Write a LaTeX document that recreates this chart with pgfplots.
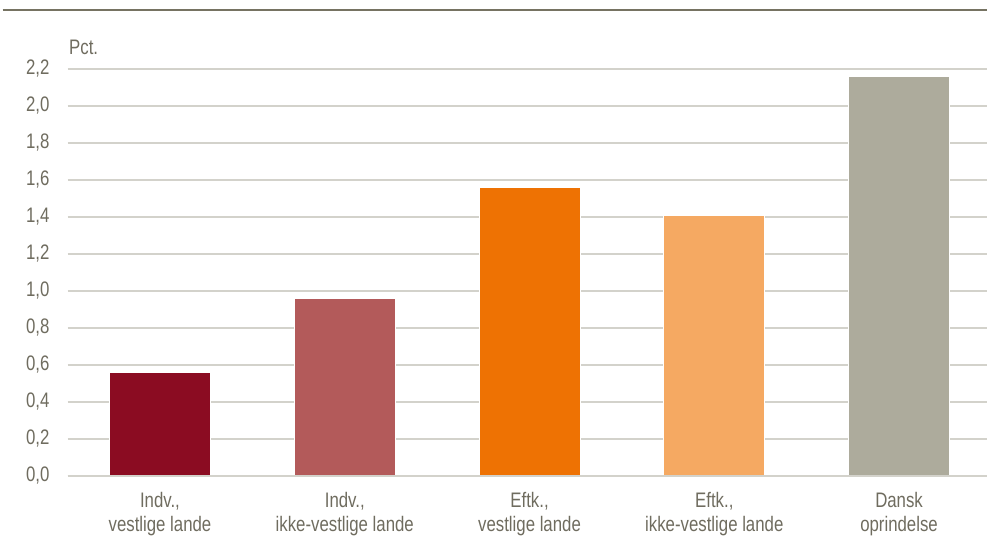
\documentclass[border=0pt]{standalone}
\usepackage{fontspec}
\setmainfont{Liberation Sans}[FakeStretch=0.80]
\usepackage{pgfplots}
\pgfplotsset{compat=1.18}
\definecolor{gridc}{HTML}{D3D2CB}
\definecolor{tickc}{HTML}{6F6C5F}
\definecolor{rulec}{HTML}{767362}
\definecolor{c1}{HTML}{8B0C22}
\definecolor{c2}{HTML}{B35A5A}
\definecolor{c3}{HTML}{EE7203}
\definecolor{c4}{HTML}{F5A962}
\definecolor{c5}{HTML}{ADAB9C}
\begin{document}
\fontsize{21bp}{24bp}\selectfont
\begin{tikzpicture}
\path[use as bounding box] (-67.6bp,-69bp) rectangle (919.4bp,476bp);
\draw[rulec, line width=2.2bp] (-65bp,466bp) -- (919.4bp,466bp);
\node[anchor=west, inner sep=0pt, text=tickc] at (1.4bp,429bp) {Pct.};
\begin{axis}[
  at={(0,0)}, anchor=south west,
  scale only axis, width=919.4bp, height=407bp,
  xmin=-0.5, xmax=4.476, ymin=0, ymax=2.2,
  clip=false,
  axis line style={draw=none},
  tick style={draw=none}, major tick length=0pt,
  ytick={0,0.2,0.4,0.6,0.8,1.0,1.2,1.4,1.6,1.8,2.0,2.2},
  ymajorgrids, grid style={draw=gridc, line width=1.6bp},
  yticklabel style={text=tickc, xshift=-11bp,
    /pgf/number format/.cd, use comma, fixed, fixed zerofill, precision=1, assume math mode=true},
  xtick={0,1,2,3,4},
  xticklabels={{Indv.,\\vestlige lande},{Indv.,\\ikke-vestlige lande},{Eftk.,\\vestlige lande},{Eftk.,\\ikke-vestlige lande},{Dansk\\oprindelse}},
  xticklabel style={text=tickc, align=center, yshift=-9bp},
  ybar, bar width=101bp,
  every axis plot/.append style={bar shift=0pt, draw=white, line width=0.8bp},
]
\addplot[fill=c1] coordinates {(0,0.56)};
\addplot[fill=c2] coordinates {(1,0.96)};
\addplot[fill=c3] coordinates {(2,1.56)};
\addplot[fill=c4] coordinates {(3,1.41)};
\addplot[fill=c5] coordinates {(4,2.16)};
\draw[gridc, line width=1.8bp] (axis cs:-0.5,0) -- (axis cs:4.476,0);
\end{axis}
\end{tikzpicture}
\end{document}
